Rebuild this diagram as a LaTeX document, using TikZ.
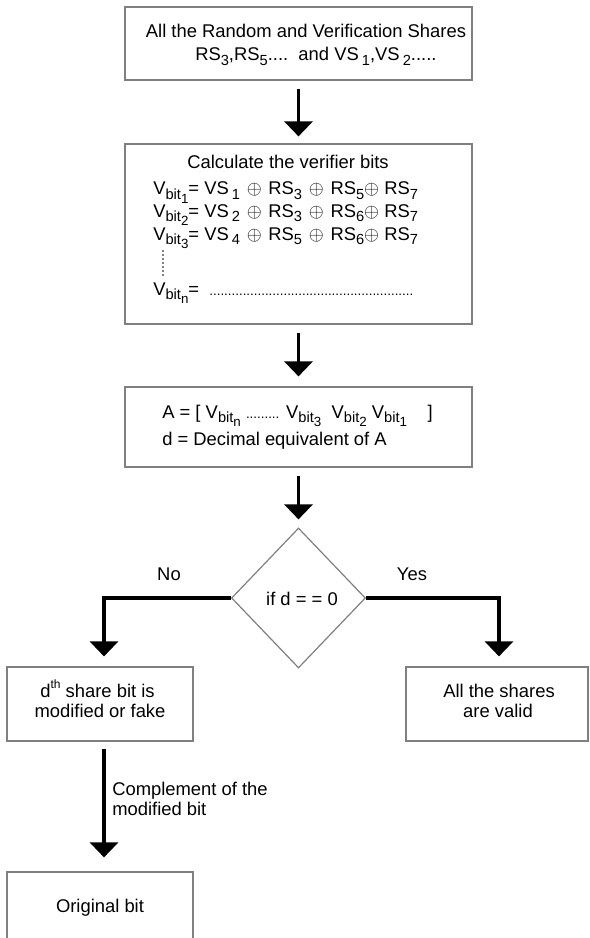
\documentclass[tikz,border=0pt]{standalone}
\usepackage{fontspec}
\setmainfont{Liberation Sans}
\usetikzlibrary{arrows.meta,shapes.geometric}
\definecolor{boxgray}{HTML}{808080}
\newcommand\lo[1]{\raisebox{-0.45ex}{\fontsize{11}{12}\selectfont #1}}
\newcommand\llo[1]{\raisebox{-0.5ex}{\fontsize{10}{11}\selectfont #1}}
\newcommand\hi[1]{\raisebox{0.85ex}{\fontsize{9}{10}\selectfont #1}}
\newcommand\smalldots[1]{{\fontsize{10}{10}\selectfont #1}}
\newcommand\xo{\kern1.2pt$\oplus$\kern1.2pt}
\begin{document}
\begin{tikzpicture}[x=0.75pt,y=-0.75pt,
  box/.style={draw=boxgray,line width=0.9pt,inner sep=0pt,rectangle},
  txt/.style={inner sep=0pt,anchor=base,font=\fontsize{13.8}{16}\selectfont},
  flow/.style={line width=2.4pt,-{Triangle[width=21pt,length=11.25pt]}},
  vdotline/.style={line width=1.2pt,line cap=round,dash pattern=on 0pt off 3pt},
]
\useasboundingbox[fill=white] (0,0) rectangle (589,938);

% boxes
\node[box,minimum width=260.25pt,minimum height=54.75pt] (b1) at (298.5,43.5) {};
\node[box,minimum width=260.25pt,minimum height=135pt] (b2) at (298.5,234) {};
\node[box,minimum width=260.25pt,minimum height=60pt] (b3) at (298.5,427) {};
\node[diamond,draw=boxgray,line width=0.9pt,inner sep=0pt,minimum width=100.5pt,minimum height=105pt] (dec) at (298.5,598) {};
\node[box,minimum width=139.5pt,minimum height=55.5pt] (fake) at (100,704) {};
\node[box,minimum width=136.5pt,minimum height=55.5pt] (valid) at (497,704) {};
\node[box,minimum width=139.5pt,minimum height=52.5pt] (orig) at (100,907) {};

% connectors
\draw[flow,shorten <=6pt,shorten >=5.25pt] (b1) -- (b2);
\draw[flow,shorten <=6pt,shorten >=7.5pt] (b2) -- (b3);
\draw[flow,shorten <=6pt,shorten >=6pt] (b3) -- (dec);
\draw[flow,shorten >=7.5pt] (dec.west) -| ([xshift=3pt]fake.north);
\draw[flow,shorten >=7.5pt] (dec.east) -| ([xshift=1.5pt]valid.north);
\draw[flow,shorten <=5.25pt,shorten >=10.5pt] ([xshift=3pt]fake.south) -- ([xshift=3pt]orig.north);

% box 1 text
\node[txt] (t1a) at (306,38) {All the Random and Verification Shares};
\node[txt,anchor=base west] (t1b) at (195,61) {RS\lo{3},RS\lo{5}....\ \ and VS\,\lo{1},VS\,\lo{2}.....};

% box 2 text
\node[txt] (t2) at (288,168) {Calculate the verifier bits};
\node[txt,anchor=base west] (e1) at (153,195) {V\lo{bit\llo{1}}= VS\,\lo{1} \xo{} RS\lo{3} \xo{} RS\lo{5}$\oplus$ RS\lo{7}};
\node[txt,anchor=base west] (e2) at (153,217) {V\lo{bit\llo{2}}= VS\,\lo{2} \xo{} RS\lo{3} \xo{} RS\lo{6}$\oplus$ RS\lo{7}};
\node[txt,anchor=base west] (e3) at (153,240) {V\lo{bit\llo{3}}= VS\,\lo{4} \xo{} RS\lo{5} \xo{} RS\lo{6}$\oplus$ RS\lo{7}};
\coordinate (vdtop) at (163,251);
\coordinate (vdbot) at (163,277);
\draw[vdotline] (vdtop) -- (vdbot);
\node[txt,anchor=base west] (en) at (153,295) {V\lo{bit\llo{n}}=\ \ \smalldots{.......................................................}};

% box 3 text
\node[txt,anchor=base west] (a1) at (162,418) {A = [ V\lo{bit\llo{n}} \smalldots{.........} V\lo{bit\llo{3}}\ \ V\lo{bit\llo{2}} V\lo{bit\llo{1}}\ \ \ \ ]};
\node[txt,anchor=base west] (a2) at (162,445) {d = Decimal equivalent of A};

% decision
\node[txt] (dt) at (302,605) {if d = = 0};
\node[txt] (no) at (169,580) {No};
\node[txt] (yes) at (412,580) {Yes};

% lower boxes text
\node[txt] (f1) at (97.5,697) {d\hi{th} share bit is};
\node[txt] (f2) at (100,717) {modified or fake};
\node[txt] (v1) at (499,697) {All the shares};
\node[txt] (v2) at (498,717) {are valid};
\node[txt,anchor=base west] (c1) at (112,795) {Complement of the};
\node[txt,anchor=base west] (c2) at (112,815) {modified bit};
\node[txt] (o1) at (100,912) {Original bit};
\end{tikzpicture}
\end{document}
